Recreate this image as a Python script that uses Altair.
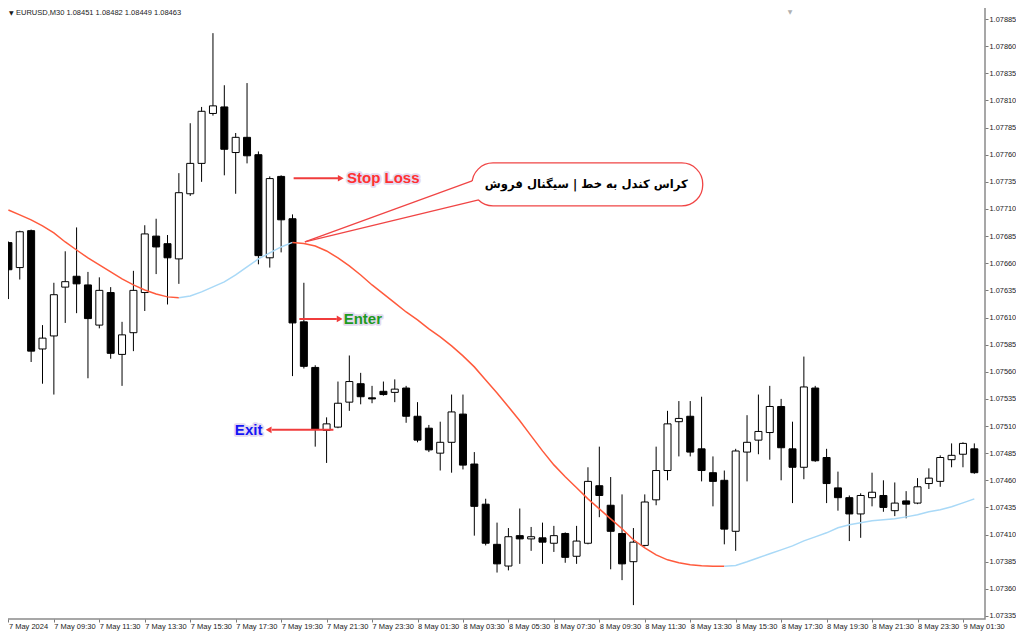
import json
import altair as alt
import pandas as pd

# ---------------- data ----------------
time_labels = ["7 May 2024", "7 May 09:30", "7 May 11:30", "7 May 13:30", "7 May 15:30",
               "7 May 17:30", "7 May 19:30", "7 May 21:30", "7 May 23:30", "8 May 01:30",
               "8 May 03:30", "8 May 05:30", "8 May 07:30", "8 May 09:30", "8 May 11:30",
               "8 May 13:30", "8 May 15:30", "8 May 17:30", "8 May 19:30", "8 May 21:30",
               "8 May 23:30", "9 May 01:30"]

opens = [1.07679, 1.07656, 1.07690, 1.07581, 1.07593, 1.07638, 1.07648, 1.07640, 1.07603, 1.07633,
         1.07576, 1.07596, 1.07633, 1.07685, 1.07678, 1.07664, 1.07724, 1.07752, 1.07798, 1.07804,
         1.07762, 1.07776, 1.07760, 1.07665, 1.07740, 1.07701, 1.07606, 1.07564, 1.07506, 1.07509,
         1.07532, 1.07549, 1.07536, 1.07542, 1.07541, 1.07545, 1.07519, 1.07508, 1.07485, 1.07495,
         1.07521, 1.07475, 1.07438, 1.07401, 1.07381, 1.07409, 1.07406, 1.07407, 1.07402, 1.07411,
         1.07390, 1.07402, 1.07455, 1.07437, 1.07411, 1.07385, 1.07400, 1.07442, 1.07469, 1.07514,
         1.07519, 1.07489, 1.07467, 1.07460, 1.07413, 1.07486, 1.07497, 1.07504, 1.07528, 1.07489,
         1.07472, 1.07545, 1.07481, 1.07453, 1.07444, 1.07429, 1.07444, 1.07446, 1.07432, 1.07441,
         1.07439, 1.07457, 1.07459, 1.07479, 1.07484, 1.07489]

highs = [1.07680, 1.07690, 1.07691, 1.07603, 1.07642, 1.07671, 1.07693, 1.07652, 1.07647, 1.07638,
         1.07606, 1.07653, 1.07695, 1.07701, 1.07686, 1.07743, 1.07789, 1.07804, 1.07872, 1.07824,
         1.07780, 1.07826, 1.07763, 1.07740, 1.07741, 1.07705, 1.07642, 1.07566, 1.07518, 1.07551,
         1.07575, 1.07559, 1.07547, 1.07551, 1.07553, 1.07547, 1.07532, 1.07511, 1.07514, 1.07539,
         1.07539, 1.07486, 1.07443, 1.07421, 1.07416, 1.07434, 1.07417, 1.07421, 1.07418, 1.07412,
         1.07418, 1.07472, 1.07491, 1.07463, 1.07447, 1.07416, 1.07447, 1.07491, 1.07524, 1.07533,
         1.07533, 1.07537, 1.07482, 1.07469, 1.07489, 1.07520, 1.07539, 1.07547, 1.07535, 1.07514,
         1.07574, 1.07547, 1.07489, 1.07468, 1.07446, 1.07448, 1.07467, 1.07460, 1.07458, 1.07450,
         1.07462, 1.07471, 1.07483, 1.07494, 1.07495, 1.07494]

lows = [1.07627, 1.07645, 1.07569, 1.07549, 1.07539, 1.07605, 1.07614, 1.07554, 1.07600, 1.07572,
        1.07547, 1.07579, 1.07616, 1.07650, 1.07622, 1.07641, 1.07722, 1.07735, 1.07796, 1.07741,
        1.07724, 1.07752, 1.07659, 1.07656, 1.07670, 1.07556, 1.07563, 1.07491, 1.07476, 1.07508,
        1.07524, 1.07530, 1.07531, 1.07538, 1.07532, 1.07513, 1.07495, 1.07486, 1.07469, 1.07467,
        1.07470, 1.07409, 1.07400, 1.07375, 1.07377, 1.07383, 1.07395, 1.07383, 1.07394, 1.07384,
        1.07383, 1.07401, 1.07426, 1.07378, 1.07368, 1.07345, 1.07399, 1.07437, 1.07460, 1.07482,
        1.07482, 1.07459, 1.07436, 1.07401, 1.07395, 1.07459, 1.07484, 1.07479, 1.07460, 1.07439,
        1.07461, 1.07477, 1.07439, 1.07432, 1.07404, 1.07407, 1.07436, 1.07431, 1.07427, 1.07425,
        1.07438, 1.07452, 1.07454, 1.07472, 1.07472, 1.07466]

closes = [1.07654, 1.07689, 1.07579, 1.07591, 1.07631, 1.07643, 1.07641, 1.07609, 1.07635, 1.07577,
          1.07594, 1.07635, 1.07687, 1.07675, 1.07665, 1.07725, 1.07752, 1.07800, 1.07805, 1.07765,
          1.07776, 1.07759, 1.07667, 1.07738, 1.07700, 1.07605, 1.07565, 1.07507, 1.07512, 1.07531,
          1.07551, 1.07537, 1.07535, 1.07539, 1.07544, 1.07519, 1.07497, 1.07488, 1.07495, 1.07523,
          1.07474, 1.07436, 1.07402, 1.07383, 1.07408, 1.07406, 1.07408, 1.07403, 1.07409, 1.07389,
          1.07404, 1.07459, 1.07446, 1.07413, 1.07383, 1.07403, 1.07440, 1.07469, 1.07512, 1.07517,
          1.07486, 1.07469, 1.07459, 1.07415, 1.07487, 1.07495, 1.07505, 1.07528, 1.07490, 1.07472,
          1.07546, 1.07478, 1.07457, 1.07444, 1.07429, 1.07446, 1.07449, 1.07435, 1.07439, 1.07438,
          1.07454, 1.07462, 1.07481, 1.07483, 1.07494, 1.07467]

ma_values = [1.077091, 1.077045, 1.076999, 1.076944, 1.076879, 1.076796, 1.076722, 1.076649, 1.076584, 1.076520,
             1.076455, 1.076400, 1.076354, 1.076317, 1.076290, 1.076281, 1.076299, 1.076336, 1.076382, 1.076428,
             1.076492, 1.076566, 1.076640, 1.076695, 1.076750, 1.076792, 1.076782, 1.076759, 1.076713, 1.076649,
             1.076575, 1.076492, 1.076400, 1.076317, 1.076234, 1.076151, 1.076078, 1.075995, 1.075921, 1.075838,
             1.075746, 1.075645, 1.075525, 1.075405, 1.075277, 1.075148, 1.075009, 1.074871, 1.074742, 1.074632,
             1.074531, 1.074429, 1.074337, 1.074245, 1.074153, 1.074052, 1.073978, 1.073913, 1.073867, 1.073840,
             1.073821, 1.073812, 1.073809, 1.073807, 1.073816, 1.073849, 1.073886, 1.073923, 1.073959, 1.073996,
             1.074042, 1.074079, 1.074116, 1.074162, 1.074190, 1.074208, 1.074227, 1.074236, 1.074245, 1.074263,
             1.074282, 1.074310, 1.074328, 1.074356, 1.074392, 1.074429]

price_ticks = [round(1.07335 + 0.00025 * k, 5) for k in range(23)]

# annotation anchors (bar index, price)
note_texts = ["Stop Loss", "Enter", "Exit"]
note_idx = [29.8, 29.5, 22.35]
note_price = [1.077383, 1.076087, 1.075060]
note_colors = ["#FF3030", "#1E9B1E", "#1515F5"]
note_align = ["left", "left", "right"]

arrow_from = [25.1, 25.6, 28.6]
arrow_to = [29.0, 28.9, 23.2]
arrow_tip = [29.25, 29.15, 22.9]
arrow_price = [1.077383, 1.076087, 1.075065]
arrow_shape = ["triangle-right", "triangle-right", "triangle-left"]

callout_text = "کراس کندل به خط | سیگنال فروش"
callout_x = [40.8, 61.1]
callout_price = [1.077524, 1.077128]
callout_text_pos = (50.85, 1.077318)
tail_apex = (26.09, 1.076796)
tail_upper = (40.81, 1.077358)
tail_lower = (41.38, 1.077183)

header_text = "EURUSD,M30  1.08451 1.08482 1.08449 1.08463"

# ---------------- chart ----------------
W, H = 985, 617
X_DOMAIN = [-0.3, 85.5]
Y_DOMAIN = [1.073322, 1.079007]
LABEL_FONT = "Liberation Sans"

n = len(opens)
df = pd.DataFrame({"idx": list(range(n)), "open": opens, "high": highs,
                   "low": lows, "close": closes})
df["body"] = ["bull" if c >= o else "bear" for o, c in zip(opens, closes)]

label_expr = json.dumps(time_labels) + "[round(datum.value / 4)]"
x_axis = alt.Axis(values=list(range(0, 85, 4)), labelExpr=label_expr, orient="bottom",
                  title=None, grid=False, domain=False, tickSize=3, tickColor="#7a7a7a",
                  labelAlign="left", labelBaseline="top", labelPadding=0,
                  labelFont=LABEL_FONT, labelFontSize=7.5, labelColor="#1a1a1a",
                  labelOverlap=False, labelFlush=False, labelBound=False)
y_axis = alt.Axis(values=price_ticks, format=".5f", orient="right", title=None, grid=False,
                  domain=False, tickSize=3, tickColor="#7a7a7a", labelPadding=1,
                  labelAlign="left", labelBaseline="middle", labelFont=LABEL_FONT,
                  labelFontSize=7.4, labelColor="#1a1a1a", labelOverlap=False,
                  labelFlush=False, labelBound=False)

xs = alt.Scale(domain=X_DOMAIN, nice=False, zero=False)
ys = alt.Scale(domain=Y_DOMAIN, nice=False, zero=False)


def X(field):
    return alt.X(f"{field}:Q", scale=xs, axis=x_axis, title=None)


def Y(field):
    return alt.Y(f"{field}:Q", scale=ys, axis=y_axis, title=None)


base = alt.Chart(df)
wicks = base.mark_rule(color="#000000", strokeWidth=1).encode(
    x=X("idx"), y=Y("low"), y2="high")
bodies = base.mark_bar(size=7, stroke="#000000", strokeWidth=1).encode(
    x=X("idx"), y=Y("open"), y2="close",
    fill=alt.Fill("body:N", scale=alt.Scale(domain=["bull", "bear"], range=["#ffffff", "#000000"]),
                  legend=None))

# moving average coloured by direction
rows, seg, prev = [], 0, None
for i in range(1, n):
    t = "up" if ma_values[i] > ma_values[i - 1] else "down"
    if t != prev:
        seg += 1
        rows.append({"idx": i - 1, "ma": ma_values[i - 1], "seg": seg, "trend": t})
        prev = t
    rows.append({"idx": i, "ma": ma_values[i], "seg": seg, "trend": t})
ma_df = pd.DataFrame(rows)
ma_line = alt.Chart(ma_df).mark_line(strokeWidth=1.5).encode(
    x=X("idx"), y=Y("ma"),
    color=alt.Color("trend:N", scale=alt.Scale(domain=["down", "up"], range=["#FF5A3C", "#A9D9F7"]),
                    legend=None),
    detail="seg:N", order="idx:Q")

# callout
pill_df = pd.DataFrame({"x1": [callout_x[0]], "x2": [callout_x[1]],
                        "y1": [callout_price[0]], "y2": [callout_price[1]]})
pill = alt.Chart(pill_df).mark_rect(cornerRadius=21, fill="#ffffff", stroke="#F04545",
                                    strokeWidth=1.3).encode(
    x=X("x1"), x2="x2", y=Y("y1"), y2="y2")

lower_at_upper_x = tail_apex[1] + (tail_lower[1] - tail_apex[1]) * \
    (tail_upper[0] - tail_apex[0]) / (tail_lower[0] - tail_apex[0])
cover_df = pd.DataFrame({"x": [tail_apex[0], tail_upper[0], tail_lower[0]],
                         "top": [tail_apex[1], tail_upper[1], tail_upper[1]],
                         "bot": [tail_apex[1], lower_at_upper_x, tail_lower[1]]})
cover = alt.Chart(cover_df).mark_area(color="#ffffff", opacity=1).encode(
    x=X("x"), y=Y("top"), y2="bot")

tail_df = pd.DataFrame({"x1": [tail_apex[0], tail_apex[0]], "x2": [tail_upper[0], tail_lower[0]],
                        "y1": [tail_apex[1], tail_apex[1]], "y2": [tail_upper[1], tail_lower[1]]})
tail = alt.Chart(tail_df).mark_rule(color="#F04545", strokeWidth=1.3).encode(
    x=X("x1"), x2="x2", y=Y("y1"), y2="y2")

ctext_df = pd.DataFrame({"x": [callout_text_pos[0]], "y": [callout_text_pos[1]], "t": [callout_text]})
ctext = alt.Chart(ctext_df).mark_text(font="DejaVu Sans", fontWeight="bold", fontSize=11.6,
                                      color="#000000", align="center", baseline="middle").encode(
    x=X("x"), y=Y("y"), text="t:N")

# arrows
arr_df = pd.DataFrame({"x1": arrow_from, "x2": arrow_to, "tip": arrow_tip, "y": arrow_price,
                       "shape": arrow_shape})
arr_lines = alt.Chart(arr_df).mark_rule(color="#F03C3C", strokeWidth=2).encode(
    x=X("x1"), x2="x2", y=Y("y"))
arr_heads = alt.Chart(arr_df).mark_point(filled=True, size=45, color="#F03C3C", opacity=1).encode(
    x=X("tip"), y=Y("y"),
    shape=alt.Shape("shape:N", scale=alt.Scale(domain=["triangle-right", "triangle-left"],
                                               range=["triangle-right", "triangle-left"]),
                    legend=None))

note_layers = []
for t, xi, yp, col, al in zip(note_texts, note_idx, note_price, note_colors, note_align):
    ndf = pd.DataFrame({"x": [xi], "y": [yp], "t": [t]})
    halo = alt.Chart(ndf).mark_text(font=LABEL_FONT, fontWeight="bold", fontSize=15, align=al,
                                    baseline="middle", fill=col, stroke="#E4DAF0",
                                    strokeWidth=3.5, strokeJoin="round").encode(
        x=X("x"), y=Y("y"), text="t:N")
    front = alt.Chart(ndf).mark_text(font=LABEL_FONT, fontWeight="bold", fontSize=15, align=al,
                                     baseline="middle", color=col).encode(
        x=X("x"), y=Y("y"), text="t:N")
    note_layers += [halo, front]

# header line inside the plot
hdr_df = pd.DataFrame({"t": [header_text]})
header = alt.Chart(hdr_df).mark_text(font=LABEL_FONT, fontSize=7.5, color="#1a1a1a",
                                     align="left", baseline="middle").encode(
    x=alt.value(16), y=alt.value(11), text="t:N")
hdr_tri = alt.Chart(pd.DataFrame({"t": ["▼"]})).mark_text(
    font="DejaVu Sans", fontSize=6, color="#1a1a1a", align="left", baseline="middle").encode(
    x=alt.value(9), y=alt.value(11), text="t:N")
shift_tri = alt.Chart(pd.DataFrame({"t": ["▼"]})).mark_text(
    font="DejaVu Sans", fontSize=6, color="#b0b0b0", align="center", baseline="middle").encode(
    x=alt.value(790), y=alt.value(10), text="t:N")

chart = alt.layer(
    wicks, bodies, ma_line, pill, cover, tail, ctext, arr_lines, arr_heads,
    *note_layers, header, hdr_tri, shift_tri
).properties(
    width=W, height=H,
    autosize=alt.AutoSizeParams(type="none"),
    padding={"left": -8, "top": -6, "right": 31, "bottom": 12},
    background="#ffffff"
).configure_view(stroke="#8a8a8a", strokeWidth=1.5)

chart.save("out.html", embed_options={"renderer": "svg", "actions": False})
